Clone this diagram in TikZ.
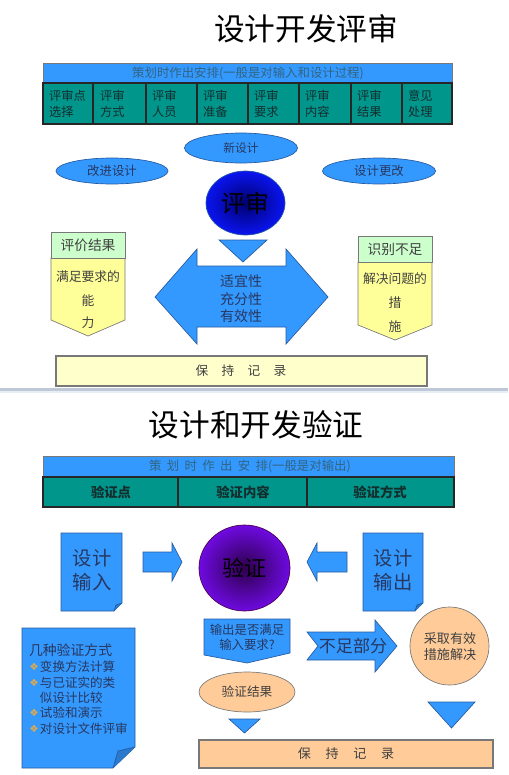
\documentclass[tikz,border=0pt]{standalone}
\usepackage{fontspec}
\setmainfont{Noto Sans CJK SC}
\newfontfamily\dejavu{DejaVu Sans}
\definecolor{hdrblue}{RGB}{51,153,255}
\definecolor{teal2}{RGB}{0,150,140}
\definecolor{shblue}{RGB}{51,153,255}
\definecolor{shborder}{RGB}{40,90,160}
\definecolor{hdrtxt}{RGB}{50,100,130}
\definecolor{celltxt}{RGB}{20,45,45}
\definecolor{bluetxt}{RGB}{40,55,95}
\definecolor{paleg}{RGB}{204,255,204}
\definecolor{paley}{RGB}{255,255,153}
\definecolor{recy}{RGB}{255,255,204}
\definecolor{peach}{RGB}{255,204,153}
\definecolor{graybd}{RGB}{120,120,120}
\definecolor{bullet}{RGB}{240,170,60}
\definecolor{sepline}{RGB}{190,200,215}
\definecolor{seplight}{RGB}{232,238,245}
\definecolor{circblue}{RGB}{10,20,240}
\definecolor{circdark}{RGB}{0,0,110}
\definecolor{purpout}{RGB}{110,10,225}
\definecolor{purpin}{RGB}{45,0,75}
\begin{document}
\begin{tikzpicture}[x=0.75pt,y=-0.75pt,
  every node/.style={inner sep=0pt,outer sep=0pt},
  blueshape/.style={fill=shblue,draw=shborder,line width=0.5pt},
  peachshape/.style={fill=peach,draw=graybd,line width=0.5pt},
  hdrbar/.style={fill=hdrblue,draw=graybd,line width=0.5pt},
  tealrow/.style={fill=teal2,draw=black!85,line width=1pt},
  celltext/.style={text=celltxt,align=left,anchor=west,font=\fontsize{9.2}{12}\selectfont},
  btxt/.style={text=bluetxt,align=center},
  gtxt/.style={text=black!75,align=center},
  mline/.style={text=bluetxt,anchor=west,font=\fontsize{9.4}{11}\selectfont},
  bul/.style={text=bullet,anchor=west,font=\dejavu\fontsize{7.5}{9}\selectfont}]
\useasboundingbox (0,0) rectangle (508,775);
\fill[white] (0,0) rectangle (508,775);

% ================= TOP HALF =================
\node[text=black,font=\fontsize{23}{26}\selectfont] (t1) at (306,29) {设计开发评审};

\draw[hdrbar] (43,63) rectangle (452,83);
\node[text=hdrtxt,font=\fontsize{9.3}{11}\selectfont] (h1) at (248,73) {策划时作出安排(一般是对输入和设计过程)};
\draw[tealrow] (43,83) rectangle (452,124);
\foreach \xx in {93,146,197,248,299,351,402}{\draw[black!85,line width=0.8pt] (\xx,83) -- (\xx,124);}
\node[celltext] (c1) at (49,104) {评审点\\选择};
\node[celltext] (c2) at (100,104) {评审\\方式};
\node[celltext] (c3) at (152,104) {评审\\人员};
\node[celltext] (c4) at (203,104) {评审\\准备};
\node[celltext] (c5) at (254,104) {评审\\要求};
\node[celltext] (c6) at (305,104) {评审\\内容};
\node[celltext] (c7) at (357,104) {评审\\结果};
\node[celltext] (c8) at (408,104) {意见\\处理};

\draw[blueshape] (241,148) ellipse [x radius=56.5,y radius=15];
\node[btxt,font=\fontsize{8.8}{11}\selectfont] (e1) at (241,148) {新设计};
\draw[blueshape] (112,171) ellipse [x radius=56,y radius=13];
\node[btxt,font=\fontsize{9.3}{11}\selectfont] (e2) at (112,171) {改进设计};
\draw[blueshape] (379,171) ellipse [x radius=56.5,y radius=13];
\node[btxt,font=\fontsize{9.3}{11}\selectfont] (e3) at (379,171) {设计更改};

\shade[inner color=circdark,outer color=circblue] (245.5,203) ellipse [x radius=39.5,y radius=32];
\draw[shborder,line width=0.5pt] (245.5,203) ellipse [x radius=39.5,y radius=32];
\node[text=black,font=\fontsize{18}{20}\selectfont] (ps) at (245.5,203) {评审};

\draw[blueshape] (219,240) -- (267,240) -- (243,262) -- cycle;
\draw[blueshape] (155,297) -- (197,249) -- (197,266) -- (286,266) -- (286,249) -- (328,297)
  -- (286,344) -- (286,327) -- (197,327) -- (197,344) -- cycle;
\node[btxt,font=\fontsize{10.5}{13.1}\selectfont] (da) at (241,299) {适宜性\\充分性\\有效性};

% left callout
\draw[fill=paley,draw=graybd,line width=0.5pt] (51,258) -- (125,258) -- (125,320) -- (88,336) -- (51,320) -- cycle;
\draw[fill=paleg,draw=graybd,line width=0.5pt] (51,232) rectangle (125,258);
\node[gtxt,font=\fontsize{10.3}{12}\selectfont] (l1) at (88,245) {评价结果};
\node[gtxt,font=\fontsize{9.6}{12}\selectfont] (l2) at (88,277) {满足要求的};
\node[gtxt,font=\fontsize{9.6}{12}\selectfont] (l3) at (88,301) {能};
\node[gtxt,font=\fontsize{9.6}{12}\selectfont] (l4) at (88,323) {力};
% right callout
\draw[fill=paley,draw=graybd,line width=0.5pt] (358,262) -- (432,262) -- (432,325) -- (395,340) -- (358,325) -- cycle;
\draw[fill=paleg,draw=graybd,line width=0.5pt] (358,236) rectangle (432,262);
\node[gtxt,font=\fontsize{10.3}{12}\selectfont] (r1) at (395,249) {识别不足};
\node[gtxt,font=\fontsize{9.6}{12}\selectfont] (r2) at (395,279) {解决问题的};
\node[gtxt,font=\fontsize{9.6}{12}\selectfont] (r3) at (395,303) {措};
\node[gtxt,font=\fontsize{9.6}{12}\selectfont] (r4) at (395,327) {施};

\draw[fill=recy,draw=graybd,line width=0.8pt] (56,356) rectangle (427,386);
\node[gtxt,font=\fontsize{9.5}{12}\selectfont] (rec1) at (241,371) {保\hspace{10pt}持\hspace{10pt}记\hspace{10pt}录};

% separator
\fill[sepline] (0,388) rectangle (508,390.5);
\fill[seplight] (0,390.5) rectangle (508,393);

% ================= BOTTOM HALF =================
\node[text=black,font=\fontsize{23}{26}\selectfont] (t2) at (256,425) {设计和开发验证};

\draw[hdrbar] (43,456) rectangle (454,477);
\node[text=hdrtxt,font=\fontsize{9.3}{11}\selectfont] (h2) at (250,466.5) {策\hspace{4pt}划\hspace{4pt}时\hspace{4pt}作\hspace{4pt}出\hspace{4pt}安\hspace{4pt}排(一般是对输出)};
\draw[tealrow] (43,477) rectangle (454,507);
\draw[black!85,line width=0.8pt] (178,477) -- (178,507);
\draw[black!85,line width=0.8pt] (307,477) -- (307,507);
\node[text=celltxt,font=\bfseries\fontsize{10}{12}\selectfont] (v1) at (111,492) {验证点};
\node[text=celltxt,font=\bfseries\fontsize{10}{12}\selectfont] (v2) at (243,492) {验证内容};
\node[text=celltxt,font=\bfseries\fontsize{10}{12}\selectfont] (v3) at (380,492) {验证方式};

% design input doc
\draw[blueshape] (61,533) -- (122,533) -- (122,603) -- (114,611) -- (61,611) -- cycle;
\draw[blueshape,fill=shblue!80!black] (122,603) -- (116,605) -- (114,611);
\node[btxt,font=\fontsize{14.5}{18}\selectfont] (din) at (92,570) {设计\\输入};
% right arrow
\draw[blueshape] (143,552) -- (172,552) -- (172,543) -- (182,562) -- (172,581) -- (172,572) -- (143,572) -- cycle;

% verify circle
\shade[inner color=purpin,outer color=purpout] (244.5,568) ellipse [x radius=45.5,y radius=43];
\draw[violet!60!black,line width=0.5pt] (244.5,568) ellipse [x radius=45.5,y radius=43];
\node[text=black,font=\fontsize{16.5}{18}\selectfont] (vc) at (244.5,568) {验证};

% left arrow
\draw[blueshape] (347,552) -- (317,552) -- (317,543) -- (307,562) -- (317,581) -- (317,572) -- (347,572) -- cycle;
% design output doc
\draw[blueshape] (363,533) -- (423,533) -- (423,603) -- (415,611) -- (363,611) -- cycle;
\draw[blueshape,fill=shblue!80!black] (423,603) -- (417,605) -- (415,611);
\node[btxt,font=\fontsize{14.5}{18}\selectfont] (dout) at (393,570) {设计\\输出};

% question shape
\draw[blueshape] (204,619) -- (290,619) -- (290,653) -- (247,663) -- (204,655) -- cycle;
\node[btxt,font=\fontsize{9.3}{11.3}\selectfont] (q) at (247,637.5) {输出是否满足\\输入要求?};

% shortfall arrow
\draw[blueshape] (307,632) -- (375,632) -- (375,620) -- (397,646) -- (375,672) -- (375,660) -- (307,660) -- (318,646) -- cycle;
\node[btxt,font=\fontsize{12.8}{14}\selectfont] (nf) at (353,646) {不足部分};

% measures circle
\draw[peachshape] (449.5,646) ellipse [x radius=39.5,y radius=39];
\node[gtxt,font=\fontsize{9.8}{12.6}\selectfont] (ms) at (450,646.5) {采取有效\\措施解决};

% result ellipse
\draw[peachshape] (247,692) ellipse [x radius=48,y radius=20];
\node[gtxt,font=\fontsize{9.5}{12}\selectfont] (vr) at (247,692) {验证结果};

% triangles
\draw[blueshape] (229,719) -- (260,719) -- (244.5,733) -- cycle;
\draw[blueshape] (428,702) -- (475,702) -- (451.5,728) -- cycle;

% record bar
\draw[peachshape,line width=0.8pt] (199,740) rectangle (493,768);
\node[gtxt,font=\fontsize{9.8}{12}\selectfont] (rec2) at (346,754) {保\hspace{11pt}持\hspace{11pt}记\hspace{11pt}录};

% methods doc
\draw[blueshape] (22,628) -- (135,628) -- (135,747) -- (113,768) -- (22,768) -- cycle;
\draw[blueshape,fill=shblue!80!black] (135,747) -- (118,751) -- (113,768);
\node[text=bluetxt,anchor=west,font=\fontsize{10.4}{12}\selectfont] (m0) at (29,650) {几种验证方式};
\node[bul] (b1) at (29.5,667) {❖};
\node[mline] (m1) at (40,667) {变换方法计算};
\node[bul] (b2) at (29.5,682.5) {❖};
\node[mline] (m2) at (40,682.5) {与已证实的类};
\node[mline] (m3) at (40,698) {似设计比较};
\node[bul] (b4) at (29.5,713) {❖};
\node[mline] (m4) at (40,713) {试验和演示};
\node[bul] (b5) at (29.5,728.5) {❖};
\node[mline] (m5) at (40,728.5) {对设计文件评审};
\end{tikzpicture}
\end{document}
